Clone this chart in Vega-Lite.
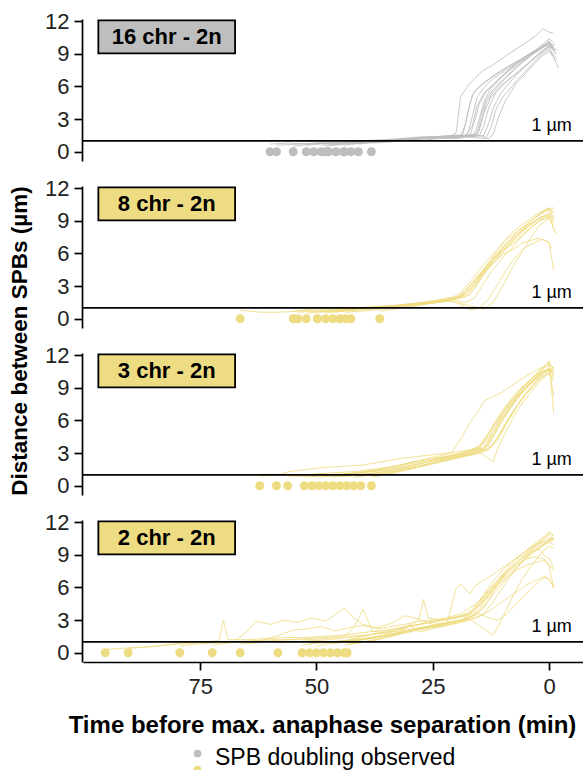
{
"$schema":"https://vega.github.io/schema/vega-lite/v6.json",
"background":"white",
"padding":{"left":8,"top":10,"right":0,"bottom":0},
"data":{"values":[
{"p":"16","lab":"16 chr - 2n"},{"p":"8","lab":"8 chr - 2n"},{"p":"3","lab":"3 chr - 2n"},{"p":"2","lab":"2 chr - 2n"},
{"p":"16","s":60},{"p":"16","s":58.6},{"p":"16","s":55},{"p":"16","s":52.2},{"p":"16","s":50.6},{"p":"16","s":49},{"p":"16","s":47.4},{"p":"16","s":48},{"p":"16","s":45.8},{"p":"16","s":44.2},{"p":"16","s":44},{"p":"16","s":42.6},{"p":"16","s":41},{"p":"16","s":38.2},
{"p":"8","s":66.4},{"p":"8","s":55},{"p":"8","s":54},{"p":"8","s":52.2},{"p":"8","s":49.8},{"p":"8","s":48},{"p":"8","s":46.5},{"p":"8","s":45},{"p":"8","s":43.8},{"p":"8","s":42.6},{"p":"8","s":36.4},{"p":"8","s":49.8},
{"p":"3","s":62.2},{"p":"3","s":58.6},{"p":"3","s":56.2},{"p":"3","s":52.6},{"p":"3","s":51},{"p":"3","s":49.5},{"p":"3","s":48},{"p":"3","s":46.5},{"p":"3","s":45},{"p":"3","s":43.5},{"p":"3","s":42},{"p":"3","s":40.5},{"p":"3","s":38.2},
{"p":"2","s":95.4},{"p":"2","s":90.5},{"p":"2","s":79.4},{"p":"2","s":72.4},{"p":"2","s":66.4},{"p":"2","s":58.3},{"p":"2","s":53.1},{"p":"2","s":51.5},{"p":"2","s":50},{"p":"2","s":48.5},{"p":"2","s":47},{"p":"2","s":45.5},{"p":"2","s":44},{"p":"2","s":43.4},
{"p":"16","i":1,"t":60,"d":0.7},{"p":"16","i":1,"t":56,"d":0.8},{"p":"16","i":1,"t":52,"d":0.7},{"p":"16","i":1,"t":48,"d":0.9},{"p":"16","i":1,"t":44,"d":0.8},{"p":"16","i":1,"t":40,"d":1.0},{"p":"16","i":1,"t":36,"d":1.0},{"p":"16","i":1,"t":32,"d":1.1},{"p":"16","i":1,"t":28,"d":1.2},{"p":"16","i":1,"t":24,"d":1.3},{"p":"16","i":1,"t":21,"d":1.5},{"p":"16","i":1,"t":20,"d":1.7},{"p":"16","i":1,"t":19,"d":5.1},{"p":"16","i":1,"t":17,"d":6.3},{"p":"16","i":1,"t":14.4,"d":7.4},{"p":"16","i":1,"t":12,"d":8.0},{"p":"16","i":1,"t":9,"d":8.9},{"p":"16","i":1,"t":5.8,"d":9.8},{"p":"16","i":1,"t":3,"d":10.6},{"p":"16","i":1,"t":1.3,"d":11.3},{"p":"16","i":1,"t":0,"d":11.0},{"p":"16","i":1,"t":-0.9,"d":10.9},
{"p":"16","i":2,"t":58.6,"d":0.6},{"p":"16","i":2,"t":54,"d":0.7},{"p":"16","i":2,"t":50,"d":0.8},{"p":"16","i":2,"t":46,"d":0.7},{"p":"16","i":2,"t":42,"d":0.9},{"p":"16","i":2,"t":38,"d":1.0},{"p":"16","i":2,"t":34,"d":1.1},{"p":"16","i":2,"t":30,"d":1.2},{"p":"16","i":2,"t":26,"d":1.3},{"p":"16","i":2,"t":22,"d":1.4},{"p":"16","i":2,"t":19,"d":1.5},{"p":"16","i":2,"t":18,"d":2.5},{"p":"16","i":2,"t":17,"d":4.5},{"p":"16","i":2,"t":16,"d":5.6},{"p":"16","i":2,"t":14,"d":6.3},{"p":"16","i":2,"t":11,"d":7.2},{"p":"16","i":2,"t":8,"d":8.0},{"p":"16","i":2,"t":5,"d":8.8},{"p":"16","i":2,"t":2,"d":9.6},{"p":"16","i":2,"t":0,"d":10.1},{"p":"16","i":2,"t":-1.2,"d":9.2},
{"p":"16","i":3,"t":55,"d":0.5},{"p":"16","i":3,"t":51,"d":0.7},{"p":"16","i":3,"t":47,"d":0.8},{"p":"16","i":3,"t":43,"d":0.8},{"p":"16","i":3,"t":39,"d":0.9},{"p":"16","i":3,"t":35,"d":1.0},{"p":"16","i":3,"t":31,"d":1.2},{"p":"16","i":3,"t":27,"d":1.3},{"p":"16","i":3,"t":23,"d":1.4},{"p":"16","i":3,"t":19,"d":1.4},{"p":"16","i":3,"t":17.5,"d":1.6},{"p":"16","i":3,"t":16.5,"d":3.2},{"p":"16","i":3,"t":15.5,"d":5.0},{"p":"16","i":3,"t":14,"d":5.9},{"p":"16","i":3,"t":12,"d":6.7},{"p":"16","i":3,"t":9,"d":7.6},{"p":"16","i":3,"t":6,"d":8.5},{"p":"16","i":3,"t":3,"d":9.2},{"p":"16","i":3,"t":1,"d":9.7},{"p":"16","i":3,"t":0,"d":9.9},{"p":"16","i":3,"t":-1.5,"d":9.0},
{"p":"16","i":4,"t":52.2,"d":0.6},{"p":"16","i":4,"t":48,"d":0.8},{"p":"16","i":4,"t":44,"d":0.8},{"p":"16","i":4,"t":40,"d":1.0},{"p":"16","i":4,"t":36,"d":1.1},{"p":"16","i":4,"t":32,"d":1.2},{"p":"16","i":4,"t":28,"d":1.2},{"p":"16","i":4,"t":24,"d":1.4},{"p":"16","i":4,"t":20,"d":1.5},{"p":"16","i":4,"t":17,"d":1.5},{"p":"16","i":4,"t":16,"d":2.8},{"p":"16","i":4,"t":15,"d":4.4},{"p":"16","i":4,"t":13.5,"d":5.5},{"p":"16","i":4,"t":11,"d":6.6},{"p":"16","i":4,"t":8,"d":7.8},{"p":"16","i":4,"t":5,"d":8.7},{"p":"16","i":4,"t":2,"d":9.5},{"p":"16","i":4,"t":0,"d":9.8},{"p":"16","i":4,"t":-1.8,"d":9.3},
{"p":"16","i":5,"t":50.6,"d":0.7},{"p":"16","i":5,"t":46,"d":0.8},{"p":"16","i":5,"t":42,"d":0.9},{"p":"16","i":5,"t":38,"d":0.9},{"p":"16","i":5,"t":34,"d":1.1},{"p":"16","i":5,"t":30,"d":1.3},{"p":"16","i":5,"t":26,"d":1.4},{"p":"16","i":5,"t":22,"d":1.3},{"p":"16","i":5,"t":18,"d":1.5},{"p":"16","i":5,"t":16,"d":1.6},{"p":"16","i":5,"t":15,"d":3.0},{"p":"16","i":5,"t":14,"d":4.6},{"p":"16","i":5,"t":12.5,"d":5.8},{"p":"16","i":5,"t":10,"d":6.9},{"p":"16","i":5,"t":7,"d":8.0},{"p":"16","i":5,"t":4,"d":8.9},{"p":"16","i":5,"t":1.5,"d":9.6},{"p":"16","i":5,"t":0,"d":10.2},{"p":"16","i":5,"t":-1,"d":9.6},
{"p":"16","i":6,"t":49,"d":0.6},{"p":"16","i":6,"t":45,"d":0.7},{"p":"16","i":6,"t":41,"d":0.9},{"p":"16","i":6,"t":37,"d":1.0},{"p":"16","i":6,"t":33,"d":1.1},{"p":"16","i":6,"t":29,"d":1.2},{"p":"16","i":6,"t":25,"d":1.3},{"p":"16","i":6,"t":21,"d":1.4},{"p":"16","i":6,"t":17,"d":1.5},{"p":"16","i":6,"t":15.5,"d":1.7},{"p":"16","i":6,"t":14.5,"d":3.4},{"p":"16","i":6,"t":13.5,"d":4.8},{"p":"16","i":6,"t":12,"d":5.7},{"p":"16","i":6,"t":9.5,"d":6.8},{"p":"16","i":6,"t":7,"d":7.8},{"p":"16","i":6,"t":4,"d":8.8},{"p":"16","i":6,"t":1,"d":9.7},{"p":"16","i":6,"t":0,"d":9.9},{"p":"16","i":6,"t":-1.3,"d":9.4},
{"p":"16","i":7,"t":47.4,"d":0.8},{"p":"16","i":7,"t":43,"d":0.9},{"p":"16","i":7,"t":39,"d":1.0},{"p":"16","i":7,"t":35,"d":1.0},{"p":"16","i":7,"t":31,"d":1.1},{"p":"16","i":7,"t":27,"d":1.3},{"p":"16","i":7,"t":23,"d":1.4},{"p":"16","i":7,"t":19,"d":1.5},{"p":"16","i":7,"t":16,"d":1.4},{"p":"16","i":7,"t":14,"d":1.5},{"p":"16","i":7,"t":13,"d":2.6},{"p":"16","i":7,"t":12,"d":4.0},{"p":"16","i":7,"t":10.5,"d":5.3},{"p":"16","i":7,"t":8,"d":6.6},{"p":"16","i":7,"t":5,"d":7.9},{"p":"16","i":7,"t":2.5,"d":8.9},{"p":"16","i":7,"t":0.5,"d":9.6},{"p":"16","i":7,"t":0,"d":9.7},{"p":"16","i":7,"t":-1.5,"d":9.1},
{"p":"16","i":8,"t":48,"d":0.5},{"p":"16","i":8,"t":44,"d":0.7},{"p":"16","i":8,"t":40,"d":0.8},{"p":"16","i":8,"t":36,"d":1.0},{"p":"16","i":8,"t":32,"d":1.1},{"p":"16","i":8,"t":28,"d":1.0},{"p":"16","i":8,"t":24,"d":1.2},{"p":"16","i":8,"t":20,"d":1.3},{"p":"16","i":8,"t":18,"d":1.4},{"p":"16","i":8,"t":16.5,"d":2.4},{"p":"16","i":8,"t":15.5,"d":4.2},{"p":"16","i":8,"t":14,"d":5.4},{"p":"16","i":8,"t":11.5,"d":6.4},{"p":"16","i":8,"t":9,"d":7.4},{"p":"16","i":8,"t":6,"d":8.3},{"p":"16","i":8,"t":3,"d":9.1},{"p":"16","i":8,"t":1,"d":9.7},{"p":"16","i":8,"t":0,"d":10.0},{"p":"16","i":8,"t":-1,"d":9.7},
{"p":"16","i":9,"t":45.8,"d":0.7},{"p":"16","i":9,"t":41,"d":0.8},{"p":"16","i":9,"t":37,"d":0.9},{"p":"16","i":9,"t":33,"d":1.1},{"p":"16","i":9,"t":29,"d":1.2},{"p":"16","i":9,"t":25,"d":1.3},{"p":"16","i":9,"t":21,"d":1.4},{"p":"16","i":9,"t":18,"d":1.5},{"p":"16","i":9,"t":15,"d":1.5},{"p":"16","i":9,"t":13.5,"d":1.3},{"p":"16","i":9,"t":12.5,"d":2.2},{"p":"16","i":9,"t":11.5,"d":3.8},{"p":"16","i":9,"t":10,"d":5.0},{"p":"16","i":9,"t":7,"d":6.5},{"p":"16","i":9,"t":4,"d":7.9},{"p":"16","i":9,"t":1.5,"d":9.0},{"p":"16","i":9,"t":0,"d":9.4},{"p":"16","i":9,"t":-1.7,"d":8.6},
{"p":"16","i":10,"t":44.2,"d":0.6},{"p":"16","i":10,"t":40,"d":0.8},{"p":"16","i":10,"t":36,"d":0.9},{"p":"16","i":10,"t":32,"d":1.0},{"p":"16","i":10,"t":28,"d":1.2},{"p":"16","i":10,"t":24,"d":1.3},{"p":"16","i":10,"t":20,"d":1.2},{"p":"16","i":10,"t":17,"d":1.4},{"p":"16","i":10,"t":15,"d":1.5},{"p":"16","i":10,"t":14,"d":2.4},{"p":"16","i":10,"t":13,"d":4.0},{"p":"16","i":10,"t":11.5,"d":5.4},{"p":"16","i":10,"t":9,"d":6.5},{"p":"16","i":10,"t":6,"d":7.6},{"p":"16","i":10,"t":3,"d":8.6},{"p":"16","i":10,"t":1,"d":9.3},{"p":"16","i":10,"t":0,"d":9.6},{"p":"16","i":10,"t":-2,"d":7.7},
{"p":"16","i":11,"t":44,"d":0.9},{"p":"16","i":11,"t":40,"d":1.0},{"p":"16","i":11,"t":36,"d":1.0},{"p":"16","i":11,"t":32,"d":1.1},{"p":"16","i":11,"t":28,"d":1.2},{"p":"16","i":11,"t":24,"d":1.4},{"p":"16","i":11,"t":20,"d":1.5},{"p":"16","i":11,"t":18.5,"d":1.6},{"p":"16","i":11,"t":17.5,"d":3.5},{"p":"16","i":11,"t":16.5,"d":5.2},{"p":"16","i":11,"t":15,"d":6.0},{"p":"16","i":11,"t":12,"d":7.0},{"p":"16","i":11,"t":9,"d":7.8},{"p":"16","i":11,"t":6,"d":8.5},{"p":"16","i":11,"t":3,"d":9.3},{"p":"16","i":11,"t":1,"d":10.0},{"p":"16","i":11,"t":0,"d":10.4},{"p":"16","i":11,"t":-1,"d":10.0},
{"p":"16","i":12,"t":42.6,"d":0.8},{"p":"16","i":12,"t":38,"d":0.9},{"p":"16","i":12,"t":34,"d":1.0},{"p":"16","i":12,"t":30,"d":1.2},{"p":"16","i":12,"t":26,"d":1.3},{"p":"16","i":12,"t":22,"d":1.4},{"p":"16","i":12,"t":19,"d":1.4},{"p":"16","i":12,"t":16,"d":1.3},{"p":"16","i":12,"t":13,"d":1.2},{"p":"16","i":12,"t":12,"d":1.6},{"p":"16","i":12,"t":11,"d":3.0},{"p":"16","i":12,"t":9.5,"d":4.6},{"p":"16","i":12,"t":7,"d":6.3},{"p":"16","i":12,"t":4,"d":7.7},{"p":"16","i":12,"t":1.5,"d":8.8},{"p":"16","i":12,"t":0,"d":9.2},{"p":"16","i":12,"t":-1.5,"d":8.4},
{"p":"16","i":13,"t":41,"d":0.7},{"p":"16","i":13,"t":37,"d":0.9},{"p":"16","i":13,"t":33,"d":1.0},{"p":"16","i":13,"t":29,"d":1.1},{"p":"16","i":13,"t":25,"d":1.3},{"p":"16","i":13,"t":21,"d":1.3},{"p":"16","i":13,"t":18,"d":1.4},{"p":"16","i":13,"t":16,"d":1.5},{"p":"16","i":13,"t":15,"d":2.0},{"p":"16","i":13,"t":14,"d":3.6},{"p":"16","i":13,"t":12.5,"d":5.0},{"p":"16","i":13,"t":10,"d":6.2},{"p":"16","i":13,"t":7,"d":7.2},{"p":"16","i":13,"t":4,"d":8.3},{"p":"16","i":13,"t":1.5,"d":9.3},{"p":"16","i":13,"t":0,"d":9.6},{"p":"16","i":13,"t":-1.2,"d":9.9},
{"p":"16","i":14,"t":38.2,"d":0.8},{"p":"16","i":14,"t":34,"d":0.9},{"p":"16","i":14,"t":30,"d":1.1},{"p":"16","i":14,"t":26,"d":1.2},{"p":"16","i":14,"t":22,"d":1.3},{"p":"16","i":14,"t":19,"d":1.4},{"p":"16","i":14,"t":17,"d":1.5},{"p":"16","i":14,"t":15.5,"d":1.5},{"p":"16","i":14,"t":14.5,"d":2.8},{"p":"16","i":14,"t":13.5,"d":4.5},{"p":"16","i":14,"t":12,"d":5.5},{"p":"16","i":14,"t":9.5,"d":6.7},{"p":"16","i":14,"t":6.5,"d":7.9},{"p":"16","i":14,"t":3.5,"d":9.0},{"p":"16","i":14,"t":1,"d":9.8},{"p":"16","i":14,"t":0,"d":10.1},{"p":"16","i":14,"t":-0.8,"d":9.5},
{"p":"8","i":1,"t":66.4,"d":0.8},{"p":"8","i":1,"t":62,"d":0.6},{"p":"8","i":1,"t":58,"d":0.6},{"p":"8","i":1,"t":54,"d":0.7},{"p":"8","i":1,"t":50,"d":0.8},{"p":"8","i":1,"t":46,"d":0.9},{"p":"8","i":1,"t":42,"d":0.8},{"p":"8","i":1,"t":38,"d":1.0},{"p":"8","i":1,"t":34,"d":1.2},{"p":"8","i":1,"t":30,"d":1.3},{"p":"8","i":1,"t":26,"d":1.5},{"p":"8","i":1,"t":22,"d":1.8},{"p":"8","i":1,"t":20,"d":1.9},{"p":"8","i":1,"t":18,"d":2.6},{"p":"8","i":1,"t":16,"d":3.6},{"p":"8","i":1,"t":14,"d":4.6},{"p":"8","i":1,"t":12,"d":5.6},{"p":"8","i":1,"t":10,"d":6.6},{"p":"8","i":1,"t":8,"d":7.3},{"p":"8","i":1,"t":6,"d":8.0},{"p":"8","i":1,"t":4,"d":8.7},{"p":"8","i":1,"t":2,"d":9.3},{"p":"8","i":1,"t":0,"d":9.6},{"p":"8","i":1,"t":-1,"d":9.2},
{"p":"8","i":2,"t":55,"d":0.7},{"p":"8","i":2,"t":51,"d":0.9},{"p":"8","i":2,"t":47,"d":1.0},{"p":"8","i":2,"t":43,"d":0.9},{"p":"8","i":2,"t":39,"d":1.0},{"p":"8","i":2,"t":35,"d":1.2},{"p":"8","i":2,"t":31,"d":1.3},{"p":"8","i":2,"t":27,"d":1.5},{"p":"8","i":2,"t":23,"d":1.7},{"p":"8","i":2,"t":21,"d":1.9},{"p":"8","i":2,"t":19,"d":2.4},{"p":"8","i":2,"t":17,"d":3.4},{"p":"8","i":2,"t":15,"d":4.5},{"p":"8","i":2,"t":13,"d":5.5},{"p":"8","i":2,"t":11,"d":6.4},{"p":"8","i":2,"t":9,"d":7.3},{"p":"8","i":2,"t":7,"d":8.0},{"p":"8","i":2,"t":5,"d":8.6},{"p":"8","i":2,"t":3,"d":9.3},{"p":"8","i":2,"t":1,"d":9.9},{"p":"8","i":2,"t":0,"d":10.1},{"p":"8","i":2,"t":-1,"d":10.2},
{"p":"8","i":3,"t":54,"d":0.6},{"p":"8","i":3,"t":50,"d":0.7},{"p":"8","i":3,"t":46,"d":0.6},{"p":"8","i":3,"t":42,"d":0.8},{"p":"8","i":3,"t":38,"d":0.9},{"p":"8","i":3,"t":34,"d":1.1},{"p":"8","i":3,"t":30,"d":1.4},{"p":"8","i":3,"t":26,"d":1.5},{"p":"8","i":3,"t":22,"d":1.8},{"p":"8","i":3,"t":20,"d":1.9},{"p":"8","i":3,"t":18,"d":2.0},{"p":"8","i":3,"t":16,"d":2.9},{"p":"8","i":3,"t":14,"d":4.2},{"p":"8","i":3,"t":12,"d":5.3},{"p":"8","i":3,"t":10,"d":6.2},{"p":"8","i":3,"t":8,"d":7.0},{"p":"8","i":3,"t":6,"d":7.9},{"p":"8","i":3,"t":4,"d":8.6},{"p":"8","i":3,"t":2,"d":9.2},{"p":"8","i":3,"t":0,"d":9.4},{"p":"8","i":3,"t":-1.2,"d":8.1},
{"p":"8","i":4,"t":52.2,"d":0.5},{"p":"8","i":4,"t":48,"d":0.7},{"p":"8","i":4,"t":44,"d":0.8},{"p":"8","i":4,"t":40,"d":1.0},{"p":"8","i":4,"t":36,"d":1.1},{"p":"8","i":4,"t":32,"d":1.2},{"p":"8","i":4,"t":28,"d":1.4},{"p":"8","i":4,"t":24,"d":1.6},{"p":"8","i":4,"t":21,"d":1.7},{"p":"8","i":4,"t":19,"d":2.1},{"p":"8","i":4,"t":17,"d":3.0},{"p":"8","i":4,"t":15,"d":4.0},{"p":"8","i":4,"t":13,"d":5.0},{"p":"8","i":4,"t":11,"d":6.0},{"p":"8","i":4,"t":9,"d":6.9},{"p":"8","i":4,"t":7,"d":7.7},{"p":"8","i":4,"t":5,"d":8.4},{"p":"8","i":4,"t":3,"d":9.0},{"p":"8","i":4,"t":1,"d":9.5},{"p":"8","i":4,"t":0,"d":9.8},{"p":"8","i":4,"t":-1,"d":9.1},
{"p":"8","i":5,"t":49.8,"d":0.7},{"p":"8","i":5,"t":46,"d":0.8},{"p":"8","i":5,"t":42,"d":1.0},{"p":"8","i":5,"t":38,"d":1.1},{"p":"8","i":5,"t":34,"d":1.2},{"p":"8","i":5,"t":30,"d":1.3},{"p":"8","i":5,"t":26,"d":1.6},{"p":"8","i":5,"t":22,"d":1.8},{"p":"8","i":5,"t":20,"d":1.7},{"p":"8","i":5,"t":18,"d":1.5},{"p":"8","i":5,"t":16,"d":1.9},{"p":"8","i":5,"t":14,"d":3.3},{"p":"8","i":5,"t":12,"d":4.6},{"p":"8","i":5,"t":10,"d":5.6},{"p":"8","i":5,"t":8,"d":6.5},{"p":"8","i":5,"t":6,"d":7.5},{"p":"8","i":5,"t":4,"d":8.3},{"p":"8","i":5,"t":2,"d":9.0},{"p":"8","i":5,"t":0,"d":9.3},{"p":"8","i":5,"t":-1.5,"d":7.8},
{"p":"8","i":6,"t":48,"d":0.6},{"p":"8","i":6,"t":44,"d":0.7},{"p":"8","i":6,"t":40,"d":0.9},{"p":"8","i":6,"t":36,"d":1.0},{"p":"8","i":6,"t":32,"d":1.1},{"p":"8","i":6,"t":28,"d":1.3},{"p":"8","i":6,"t":24,"d":1.5},{"p":"8","i":6,"t":21,"d":1.7},{"p":"8","i":6,"t":19,"d":1.3},{"p":"8","i":6,"t":17,"d":0.8},{"p":"8","i":6,"t":15,"d":1.0},{"p":"8","i":6,"t":13,"d":1.8},{"p":"8","i":6,"t":11,"d":3.2},{"p":"8","i":6,"t":9,"d":4.6},{"p":"8","i":6,"t":7,"d":5.8},{"p":"8","i":6,"t":5,"d":6.6},{"p":"8","i":6,"t":3,"d":7.0},{"p":"8","i":6,"t":1.5,"d":7.3},{"p":"8","i":6,"t":0,"d":7.0},{"p":"8","i":6,"t":-1,"d":4.5},
{"p":"8","i":7,"t":46.5,"d":0.8},{"p":"8","i":7,"t":42,"d":0.9},{"p":"8","i":7,"t":38,"d":1.0},{"p":"8","i":7,"t":34,"d":1.1},{"p":"8","i":7,"t":30,"d":1.3},{"p":"8","i":7,"t":26,"d":1.4},{"p":"8","i":7,"t":22,"d":1.6},{"p":"8","i":7,"t":20,"d":1.8},{"p":"8","i":7,"t":18,"d":2.5},{"p":"8","i":7,"t":16,"d":3.5},{"p":"8","i":7,"t":14,"d":4.4},{"p":"8","i":7,"t":12,"d":5.1},{"p":"8","i":7,"t":10,"d":5.9},{"p":"8","i":7,"t":8,"d":6.3},{"p":"8","i":7,"t":6,"d":6.9},{"p":"8","i":7,"t":4,"d":7.2},{"p":"8","i":7,"t":2,"d":7.4},{"p":"8","i":7,"t":0,"d":7.0},{"p":"8","i":7,"t":-0.5,"d":6.5},
{"p":"8","i":8,"t":45,"d":0.7},{"p":"8","i":8,"t":41,"d":0.9},{"p":"8","i":8,"t":37,"d":1.0},{"p":"8","i":8,"t":33,"d":1.2},{"p":"8","i":8,"t":29,"d":1.3},{"p":"8","i":8,"t":25,"d":1.5},{"p":"8","i":8,"t":21,"d":1.8},{"p":"8","i":8,"t":19,"d":1.9},{"p":"8","i":8,"t":17,"d":2.7},{"p":"8","i":8,"t":15,"d":3.8},{"p":"8","i":8,"t":13,"d":4.9},{"p":"8","i":8,"t":11,"d":5.8},{"p":"8","i":8,"t":9,"d":6.7},{"p":"8","i":8,"t":7,"d":7.6},{"p":"8","i":8,"t":5,"d":8.5},{"p":"8","i":8,"t":3,"d":9.3},{"p":"8","i":8,"t":1,"d":10.0},{"p":"8","i":8,"t":0,"d":10.2},{"p":"8","i":8,"t":-1,"d":9.8},
{"p":"8","i":9,"t":43.8,"d":0.6},{"p":"8","i":9,"t":40,"d":0.7},{"p":"8","i":9,"t":36,"d":0.9},{"p":"8","i":9,"t":32,"d":1.1},{"p":"8","i":9,"t":28,"d":1.3},{"p":"8","i":9,"t":24,"d":1.6},{"p":"8","i":9,"t":21,"d":1.9},{"p":"8","i":9,"t":19,"d":2.0},{"p":"8","i":9,"t":17,"d":2.2},{"p":"8","i":9,"t":15,"d":3.4},{"p":"8","i":9,"t":13,"d":4.6},{"p":"8","i":9,"t":11,"d":5.6},{"p":"8","i":9,"t":9,"d":6.5},{"p":"8","i":9,"t":7,"d":7.2},{"p":"8","i":9,"t":5,"d":8.0},{"p":"8","i":9,"t":3,"d":8.7},{"p":"8","i":9,"t":1,"d":9.3},{"p":"8","i":9,"t":0,"d":9.5},{"p":"8","i":9,"t":-1,"d":8.9},
{"p":"8","i":10,"t":42.6,"d":0.8},{"p":"8","i":10,"t":38,"d":1.0},{"p":"8","i":10,"t":34,"d":1.1},{"p":"8","i":10,"t":30,"d":1.2},{"p":"8","i":10,"t":26,"d":1.4},{"p":"8","i":10,"t":22,"d":1.6},{"p":"8","i":10,"t":20,"d":1.5},{"p":"8","i":10,"t":18,"d":1.3},{"p":"8","i":10,"t":16,"d":1.1},{"p":"8","i":10,"t":14,"d":0.9},{"p":"8","i":10,"t":12,"d":1.5},{"p":"8","i":10,"t":10,"d":3.0},{"p":"8","i":10,"t":8,"d":4.6},{"p":"8","i":10,"t":6,"d":6.0},{"p":"8","i":10,"t":4,"d":7.4},{"p":"8","i":10,"t":2,"d":8.6},{"p":"8","i":10,"t":0,"d":9.2},{"p":"8","i":10,"t":-1,"d":8.8},
{"p":"8","i":11,"t":36.4,"d":0.7},{"p":"8","i":11,"t":33,"d":0.9},{"p":"8","i":11,"t":30,"d":1.1},{"p":"8","i":11,"t":27,"d":1.3},{"p":"8","i":11,"t":24,"d":1.5},{"p":"8","i":11,"t":21,"d":1.8},{"p":"8","i":11,"t":19,"d":2.0},{"p":"8","i":11,"t":17,"d":2.6},{"p":"8","i":11,"t":15,"d":3.7},{"p":"8","i":11,"t":13,"d":4.8},{"p":"8","i":11,"t":11,"d":5.9},{"p":"8","i":11,"t":9,"d":7.0},{"p":"8","i":11,"t":7,"d":7.9},{"p":"8","i":11,"t":5,"d":8.6},{"p":"8","i":11,"t":3,"d":9.3},{"p":"8","i":11,"t":1,"d":9.8},{"p":"8","i":11,"t":0,"d":10.1},{"p":"8","i":11,"t":-1,"d":9.3},
{"p":"8","i":12,"t":49.8,"d":0.6},{"p":"8","i":12,"t":45,"d":0.7},{"p":"8","i":12,"t":41,"d":0.9},{"p":"8","i":12,"t":37,"d":1.0},{"p":"8","i":12,"t":33,"d":1.2},{"p":"8","i":12,"t":29,"d":1.3},{"p":"8","i":12,"t":25,"d":1.6},{"p":"8","i":12,"t":22,"d":1.9},{"p":"8","i":12,"t":20,"d":2.0},{"p":"8","i":12,"t":18,"d":2.3},{"p":"8","i":12,"t":16,"d":3.2},{"p":"8","i":12,"t":14,"d":4.5},{"p":"8","i":12,"t":12,"d":5.8},{"p":"8","i":12,"t":10,"d":7.0},{"p":"8","i":12,"t":8,"d":7.9},{"p":"8","i":12,"t":6,"d":8.6},{"p":"8","i":12,"t":4,"d":9.2},{"p":"8","i":12,"t":2,"d":9.8},{"p":"8","i":12,"t":0,"d":10.0},{"p":"8","i":12,"t":-1,"d":9.7},
{"p":"3","i":1,"t":62.2,"d":0.9},{"p":"3","i":1,"t":58,"d":1.0},{"p":"3","i":1,"t":54,"d":0.9},{"p":"3","i":1,"t":50,"d":1.1},{"p":"3","i":1,"t":46,"d":1.2},{"p":"3","i":1,"t":42,"d":1.3},{"p":"3","i":1,"t":38,"d":1.5},{"p":"3","i":1,"t":34,"d":1.7},{"p":"3","i":1,"t":30,"d":2.0},{"p":"3","i":1,"t":26,"d":2.3},{"p":"3","i":1,"t":22,"d":2.6},{"p":"3","i":1,"t":19,"d":2.9},{"p":"3","i":1,"t":17,"d":3.2},{"p":"3","i":1,"t":15,"d":3.5},{"p":"3","i":1,"t":13,"d":4.8},{"p":"3","i":1,"t":11,"d":6.0},{"p":"3","i":1,"t":9,"d":7.2},{"p":"3","i":1,"t":7,"d":8.2},{"p":"3","i":1,"t":5,"d":9.1},{"p":"3","i":1,"t":3,"d":9.9},{"p":"3","i":1,"t":1,"d":10.6},{"p":"3","i":1,"t":0,"d":10.8},{"p":"3","i":1,"t":-1,"d":10.3},
{"p":"3","i":2,"t":58.6,"d":0.9},{"p":"3","i":2,"t":56,"d":1.3},{"p":"3","i":2,"t":52,"d":1.5},{"p":"3","i":2,"t":48,"d":1.7},{"p":"3","i":2,"t":44,"d":1.8},{"p":"3","i":2,"t":40,"d":1.9},{"p":"3","i":2,"t":36,"d":2.2},{"p":"3","i":2,"t":32,"d":2.5},{"p":"3","i":2,"t":28,"d":2.7},{"p":"3","i":2,"t":24,"d":2.9},{"p":"3","i":2,"t":20,"d":3.1},{"p":"3","i":2,"t":17,"d":3.3},{"p":"3","i":2,"t":15,"d":3.6},{"p":"3","i":2,"t":13,"d":4.9},{"p":"3","i":2,"t":11,"d":6.3},{"p":"3","i":2,"t":9,"d":7.5},{"p":"3","i":2,"t":7,"d":8.6},{"p":"3","i":2,"t":5,"d":9.4},{"p":"3","i":2,"t":3,"d":10.2},{"p":"3","i":2,"t":1,"d":11.0},{"p":"3","i":2,"t":0,"d":11.2},{"p":"3","i":2,"t":-1,"d":10.8},
{"p":"3","i":3,"t":56.2,"d":0.9},{"p":"3","i":3,"t":52,"d":0.9},{"p":"3","i":3,"t":48,"d":1.0},{"p":"3","i":3,"t":44,"d":1.1},{"p":"3","i":3,"t":40,"d":1.3},{"p":"3","i":3,"t":36,"d":1.6},{"p":"3","i":3,"t":32,"d":1.9},{"p":"3","i":3,"t":28,"d":2.3},{"p":"3","i":3,"t":24,"d":2.7},{"p":"3","i":3,"t":21,"d":3.0},{"p":"3","i":3,"t":19,"d":4.3},{"p":"3","i":3,"t":17,"d":5.8},{"p":"3","i":3,"t":15,"d":7.0},{"p":"3","i":3,"t":14,"d":7.8},{"p":"3","i":3,"t":12,"d":8.2},{"p":"3","i":3,"t":10,"d":8.6},{"p":"3","i":3,"t":8,"d":9.2},{"p":"3","i":3,"t":6,"d":9.8},{"p":"3","i":3,"t":4,"d":10.3},{"p":"3","i":3,"t":2,"d":10.8},{"p":"3","i":3,"t":0,"d":11.0},{"p":"3","i":3,"t":-1,"d":10.2},
{"p":"3","i":4,"t":52.6,"d":0.8},{"p":"3","i":4,"t":49,"d":0.9},{"p":"3","i":4,"t":45,"d":1.0},{"p":"3","i":4,"t":41,"d":1.2},{"p":"3","i":4,"t":37,"d":1.4},{"p":"3","i":4,"t":33,"d":1.8},{"p":"3","i":4,"t":29,"d":2.2},{"p":"3","i":4,"t":25,"d":2.5},{"p":"3","i":4,"t":21,"d":2.8},{"p":"3","i":4,"t":18,"d":3.1},{"p":"3","i":4,"t":16,"d":3.4},{"p":"3","i":4,"t":14,"d":4.0},{"p":"3","i":4,"t":12,"d":5.4},{"p":"3","i":4,"t":10,"d":6.8},{"p":"3","i":4,"t":8,"d":7.9},{"p":"3","i":4,"t":6,"d":8.9},{"p":"3","i":4,"t":4,"d":9.7},{"p":"3","i":4,"t":2,"d":10.4},{"p":"3","i":4,"t":0,"d":10.7},{"p":"3","i":4,"t":-1,"d":10.9},
{"p":"3","i":5,"t":51,"d":0.9},{"p":"3","i":5,"t":47,"d":1.0},{"p":"3","i":5,"t":43,"d":1.1},{"p":"3","i":5,"t":39,"d":1.3},{"p":"3","i":5,"t":35,"d":1.6},{"p":"3","i":5,"t":31,"d":2.0},{"p":"3","i":5,"t":27,"d":2.4},{"p":"3","i":5,"t":23,"d":2.6},{"p":"3","i":5,"t":20,"d":2.9},{"p":"3","i":5,"t":17,"d":3.2},{"p":"3","i":5,"t":15,"d":3.4},{"p":"3","i":5,"t":13,"d":4.4},{"p":"3","i":5,"t":11,"d":5.7},{"p":"3","i":5,"t":9,"d":7.0},{"p":"3","i":5,"t":7,"d":8.1},{"p":"3","i":5,"t":5,"d":9.0},{"p":"3","i":5,"t":3,"d":9.8},{"p":"3","i":5,"t":1,"d":10.5},{"p":"3","i":5,"t":0,"d":10.7},{"p":"3","i":5,"t":-1,"d":8.3},
{"p":"3","i":6,"t":49.5,"d":0.8},{"p":"3","i":6,"t":46,"d":0.9},{"p":"3","i":6,"t":42,"d":1.1},{"p":"3","i":6,"t":38,"d":1.3},{"p":"3","i":6,"t":34,"d":1.5},{"p":"3","i":6,"t":30,"d":1.8},{"p":"3","i":6,"t":26,"d":2.2},{"p":"3","i":6,"t":22,"d":2.5},{"p":"3","i":6,"t":19,"d":2.8},{"p":"3","i":6,"t":16,"d":3.0},{"p":"3","i":6,"t":14,"d":3.3},{"p":"3","i":6,"t":12,"d":4.5},{"p":"3","i":6,"t":10,"d":6.0},{"p":"3","i":6,"t":8,"d":7.3},{"p":"3","i":6,"t":6,"d":8.4},{"p":"3","i":6,"t":4,"d":9.4},{"p":"3","i":6,"t":2,"d":10.3},{"p":"3","i":6,"t":1,"d":10.9},{"p":"3","i":6,"t":0,"d":11.5},{"p":"3","i":6,"t":-1,"d":6.7},
{"p":"3","i":7,"t":48,"d":0.9},{"p":"3","i":7,"t":44,"d":1.0},{"p":"3","i":7,"t":40,"d":1.2},{"p":"3","i":7,"t":36,"d":1.4},{"p":"3","i":7,"t":32,"d":1.7},{"p":"3","i":7,"t":28,"d":2.0},{"p":"3","i":7,"t":24,"d":2.4},{"p":"3","i":7,"t":20,"d":2.8},{"p":"3","i":7,"t":17,"d":3.1},{"p":"3","i":7,"t":15,"d":3.3},{"p":"3","i":7,"t":13,"d":3.7},{"p":"3","i":7,"t":11,"d":5.3},{"p":"3","i":7,"t":9,"d":6.8},{"p":"3","i":7,"t":7,"d":8.0},{"p":"3","i":7,"t":5,"d":8.9},{"p":"3","i":7,"t":3,"d":9.7},{"p":"3","i":7,"t":1,"d":10.4},{"p":"3","i":7,"t":0,"d":10.6},{"p":"3","i":7,"t":-1,"d":10.1},
{"p":"3","i":8,"t":46.5,"d":0.8},{"p":"3","i":8,"t":43,"d":0.9},{"p":"3","i":8,"t":39,"d":1.1},{"p":"3","i":8,"t":35,"d":1.3},{"p":"3","i":8,"t":31,"d":1.6},{"p":"3","i":8,"t":27,"d":1.9},{"p":"3","i":8,"t":23,"d":2.3},{"p":"3","i":8,"t":20,"d":2.6},{"p":"3","i":8,"t":17,"d":2.9},{"p":"3","i":8,"t":15,"d":3.1},{"p":"3","i":8,"t":13,"d":2.5},{"p":"3","i":8,"t":12,"d":2.2},{"p":"3","i":8,"t":11,"d":3.5},{"p":"3","i":8,"t":9,"d":5.2},{"p":"3","i":8,"t":7,"d":6.8},{"p":"3","i":8,"t":5,"d":8.0},{"p":"3","i":8,"t":3,"d":9.1},{"p":"3","i":8,"t":1,"d":10.0},{"p":"3","i":8,"t":0,"d":10.3},{"p":"3","i":8,"t":-1,"d":9.6},
{"p":"3","i":9,"t":45,"d":0.9},{"p":"3","i":9,"t":41,"d":1.0},{"p":"3","i":9,"t":37,"d":1.2},{"p":"3","i":9,"t":33,"d":1.5},{"p":"3","i":9,"t":29,"d":1.9},{"p":"3","i":9,"t":25,"d":2.3},{"p":"3","i":9,"t":21,"d":2.7},{"p":"3","i":9,"t":18,"d":3.0},{"p":"3","i":9,"t":16,"d":3.3},{"p":"3","i":9,"t":14,"d":3.5},{"p":"3","i":9,"t":12,"d":4.7},{"p":"3","i":9,"t":10,"d":6.2},{"p":"3","i":9,"t":8,"d":7.5},{"p":"3","i":9,"t":6,"d":8.6},{"p":"3","i":9,"t":4,"d":9.5},{"p":"3","i":9,"t":2,"d":10.3},{"p":"3","i":9,"t":0,"d":10.6},{"p":"3","i":9,"t":-1,"d":10.7},
{"p":"3","i":10,"t":43.5,"d":0.9},{"p":"3","i":10,"t":40,"d":1.0},{"p":"3","i":10,"t":36,"d":1.2},{"p":"3","i":10,"t":32,"d":1.4},{"p":"3","i":10,"t":28,"d":1.8},{"p":"3","i":10,"t":24,"d":2.2},{"p":"3","i":10,"t":20,"d":2.6},{"p":"3","i":10,"t":17,"d":2.9},{"p":"3","i":10,"t":15,"d":3.2},{"p":"3","i":10,"t":13,"d":3.4},{"p":"3","i":10,"t":11,"d":4.4},{"p":"3","i":10,"t":9,"d":5.9},{"p":"3","i":10,"t":7,"d":7.3},{"p":"3","i":10,"t":5,"d":8.5},{"p":"3","i":10,"t":3,"d":9.5},{"p":"3","i":10,"t":1,"d":10.4},{"p":"3","i":10,"t":0,"d":10.7},{"p":"3","i":10,"t":-1,"d":10.6},
{"p":"3","i":11,"t":42,"d":0.8},{"p":"3","i":11,"t":38,"d":1.0},{"p":"3","i":11,"t":34,"d":1.2},{"p":"3","i":11,"t":30,"d":1.6},{"p":"3","i":11,"t":26,"d":2.0},{"p":"3","i":11,"t":22,"d":2.4},{"p":"3","i":11,"t":19,"d":2.7},{"p":"3","i":11,"t":16,"d":2.9},{"p":"3","i":11,"t":14,"d":3.2},{"p":"3","i":11,"t":12,"d":3.8},{"p":"3","i":11,"t":10,"d":5.3},{"p":"3","i":11,"t":8,"d":6.7},{"p":"3","i":11,"t":6,"d":7.9},{"p":"3","i":11,"t":4,"d":9.0},{"p":"3","i":11,"t":2,"d":9.9},{"p":"3","i":11,"t":0,"d":10.3},{"p":"3","i":11,"t":-1,"d":9.9},
{"p":"3","i":12,"t":40.5,"d":0.9},{"p":"3","i":12,"t":37,"d":1.0},{"p":"3","i":12,"t":33,"d":1.3},{"p":"3","i":12,"t":29,"d":1.7},{"p":"3","i":12,"t":25,"d":2.1},{"p":"3","i":12,"t":21,"d":2.5},{"p":"3","i":12,"t":18,"d":2.9},{"p":"3","i":12,"t":16,"d":3.1},{"p":"3","i":12,"t":14,"d":3.4},{"p":"3","i":12,"t":12,"d":5.0},{"p":"3","i":12,"t":10,"d":6.6},{"p":"3","i":12,"t":8,"d":7.8},{"p":"3","i":12,"t":6,"d":8.8},{"p":"3","i":12,"t":4,"d":9.7},{"p":"3","i":12,"t":2,"d":10.5},{"p":"3","i":12,"t":1,"d":11.0},{"p":"3","i":12,"t":0,"d":11.3},{"p":"3","i":12,"t":-1,"d":10.8},
{"p":"3","i":13,"t":38.2,"d":0.8},{"p":"3","i":13,"t":35,"d":1.0},{"p":"3","i":13,"t":31,"d":1.4},{"p":"3","i":13,"t":27,"d":1.8},{"p":"3","i":13,"t":23,"d":2.2},{"p":"3","i":13,"t":20,"d":2.5},{"p":"3","i":13,"t":17,"d":2.8},{"p":"3","i":13,"t":15,"d":3.0},{"p":"3","i":13,"t":13,"d":3.3},{"p":"3","i":13,"t":11,"d":4.2},{"p":"3","i":13,"t":9,"d":5.8},{"p":"3","i":13,"t":7,"d":7.2},{"p":"3","i":13,"t":5,"d":8.4},{"p":"3","i":13,"t":3,"d":9.3},{"p":"3","i":13,"t":1,"d":10.2},{"p":"3","i":13,"t":0,"d":10.5},{"p":"3","i":13,"t":-1,"d":10.4},
{"p":"2","i":1,"t":95.4,"d":0.3},{"p":"2","i":1,"t":92,"d":0.4},{"p":"2","i":1,"t":88,"d":0.5},{"p":"2","i":1,"t":84,"d":0.6},{"p":"2","i":1,"t":80,"d":0.8},{"p":"2","i":1,"t":76,"d":0.9},{"p":"2","i":1,"t":72,"d":1.0},{"p":"2","i":1,"t":68,"d":1.0},{"p":"2","i":1,"t":64,"d":1.1},{"p":"2","i":1,"t":60,"d":1.2},{"p":"2","i":1,"t":56,"d":1.2},{"p":"2","i":1,"t":52,"d":1.3},{"p":"2","i":1,"t":48,"d":1.4},{"p":"2","i":1,"t":44,"d":1.5},{"p":"2","i":1,"t":40,"d":1.6},{"p":"2","i":1,"t":36,"d":1.8},{"p":"2","i":1,"t":32,"d":2.0},{"p":"2","i":1,"t":28,"d":2.3},{"p":"2","i":1,"t":24,"d":2.6},{"p":"2","i":1,"t":20,"d":2.9},{"p":"2","i":1,"t":17,"d":3.3},{"p":"2","i":1,"t":15,"d":3.8},{"p":"2","i":1,"t":13,"d":4.8},{"p":"2","i":1,"t":11,"d":5.9},{"p":"2","i":1,"t":9,"d":6.9},{"p":"2","i":1,"t":7,"d":7.8},{"p":"2","i":1,"t":5,"d":8.6},{"p":"2","i":1,"t":3,"d":9.3},{"p":"2","i":1,"t":1,"d":10.0},{"p":"2","i":1,"t":0,"d":10.4},{"p":"2","i":1,"t":-1,"d":10.6},
{"p":"2","i":2,"t":90.5,"d":0.4},{"p":"2","i":2,"t":87,"d":0.5},{"p":"2","i":2,"t":83,"d":0.7},{"p":"2","i":2,"t":79,"d":0.9},{"p":"2","i":2,"t":75,"d":1.0},{"p":"2","i":2,"t":71,"d":1.1},{"p":"2","i":2,"t":70,"d":3.0},{"p":"2","i":2,"t":69,"d":1.2},{"p":"2","i":2,"t":65,"d":1.2},{"p":"2","i":2,"t":61,"d":1.3},{"p":"2","i":2,"t":57,"d":1.4},{"p":"2","i":2,"t":53,"d":1.4},{"p":"2","i":2,"t":49,"d":1.5},{"p":"2","i":2,"t":45,"d":1.6},{"p":"2","i":2,"t":41,"d":1.8},{"p":"2","i":2,"t":37,"d":2.0},{"p":"2","i":2,"t":33,"d":2.2},{"p":"2","i":2,"t":29,"d":2.5},{"p":"2","i":2,"t":25,"d":2.8},{"p":"2","i":2,"t":21,"d":3.1},{"p":"2","i":2,"t":18,"d":3.4},{"p":"2","i":2,"t":16,"d":4.2},{"p":"2","i":2,"t":14,"d":5.4},{"p":"2","i":2,"t":12,"d":6.6},{"p":"2","i":2,"t":10,"d":7.6},{"p":"2","i":2,"t":8,"d":8.4},{"p":"2","i":2,"t":6,"d":9.0},{"p":"2","i":2,"t":4,"d":9.6},{"p":"2","i":2,"t":2,"d":10.1},{"p":"2","i":2,"t":0,"d":10.5},{"p":"2","i":2,"t":-1,"d":10.3},
{"p":"2","i":3,"t":79.4,"d":0.6},{"p":"2","i":3,"t":76,"d":0.8},{"p":"2","i":3,"t":72,"d":0.9},{"p":"2","i":3,"t":68,"d":1.0},{"p":"2","i":3,"t":65,"d":1.9},{"p":"2","i":3,"t":63,"d":2.9},{"p":"2","i":3,"t":60,"d":2.6},{"p":"2","i":3,"t":57,"d":3.0},{"p":"2","i":3,"t":54,"d":2.8},{"p":"2","i":3,"t":51,"d":3.2},{"p":"2","i":3,"t":48,"d":2.9},{"p":"2","i":3,"t":46,"d":3.5},{"p":"2","i":3,"t":44,"d":4.1},{"p":"2","i":3,"t":42,"d":3.2},{"p":"2","i":3,"t":40,"d":2.6},{"p":"2","i":3,"t":37,"d":2.2},{"p":"2","i":3,"t":34,"d":2.4},{"p":"2","i":3,"t":31,"d":2.6},{"p":"2","i":3,"t":28,"d":2.9},{"p":"2","i":3,"t":25,"d":3.0},{"p":"2","i":3,"t":22,"d":3.2},{"p":"2","i":3,"t":19,"d":3.6},{"p":"2","i":3,"t":16,"d":4.4},{"p":"2","i":3,"t":13,"d":5.6},{"p":"2","i":3,"t":10,"d":6.8},{"p":"2","i":3,"t":7,"d":8.0},{"p":"2","i":3,"t":4,"d":9.1},{"p":"2","i":3,"t":2,"d":9.8},{"p":"2","i":3,"t":0,"d":10.2},{"p":"2","i":3,"t":-1,"d":10.4},
{"p":"2","i":4,"t":72.4,"d":0.7},{"p":"2","i":4,"t":69,"d":0.9},{"p":"2","i":4,"t":66,"d":1.0},{"p":"2","i":4,"t":62,"d":1.1},{"p":"2","i":4,"t":58,"d":1.6},{"p":"2","i":4,"t":55,"d":2.1},{"p":"2","i":4,"t":52,"d":2.2},{"p":"2","i":4,"t":49,"d":2.4},{"p":"2","i":4,"t":46,"d":2.0},{"p":"2","i":4,"t":43,"d":2.3},{"p":"2","i":4,"t":40,"d":2.5},{"p":"2","i":4,"t":37,"d":2.3},{"p":"2","i":4,"t":34,"d":2.7},{"p":"2","i":4,"t":31,"d":3.4},{"p":"2","i":4,"t":28,"d":3.1},{"p":"2","i":4,"t":25,"d":2.6},{"p":"2","i":4,"t":22,"d":2.8},{"p":"2","i":4,"t":19,"d":3.0},{"p":"2","i":4,"t":17,"d":3.5},{"p":"2","i":4,"t":15,"d":4.6},{"p":"2","i":4,"t":13,"d":5.8},{"p":"2","i":4,"t":11,"d":6.7},{"p":"2","i":4,"t":9,"d":7.5},{"p":"2","i":4,"t":7,"d":8.1},{"p":"2","i":4,"t":5,"d":8.6},{"p":"2","i":4,"t":3,"d":8.8},{"p":"2","i":4,"t":1,"d":8.6},{"p":"2","i":4,"t":0,"d":8.1},{"p":"2","i":4,"t":-1,"d":7.6},
{"p":"2","i":5,"t":66.4,"d":0.8},{"p":"2","i":5,"t":63,"d":0.9},{"p":"2","i":5,"t":60,"d":1.1},{"p":"2","i":5,"t":56,"d":1.2},{"p":"2","i":5,"t":52,"d":1.2},{"p":"2","i":5,"t":48,"d":1.3},{"p":"2","i":5,"t":44,"d":1.5},{"p":"2","i":5,"t":42,"d":2.3},{"p":"2","i":5,"t":40,"d":4.0},{"p":"2","i":5,"t":38,"d":2.0},{"p":"2","i":5,"t":35,"d":1.8},{"p":"2","i":5,"t":32,"d":2.2},{"p":"2","i":5,"t":29,"d":2.5},{"p":"2","i":5,"t":26,"d":2.8},{"p":"2","i":5,"t":23,"d":3.0},{"p":"2","i":5,"t":20,"d":3.2},{"p":"2","i":5,"t":17,"d":3.5},{"p":"2","i":5,"t":15,"d":4.4},{"p":"2","i":5,"t":13,"d":5.6},{"p":"2","i":5,"t":11,"d":6.7},{"p":"2","i":5,"t":9,"d":7.7},{"p":"2","i":5,"t":7,"d":8.6},{"p":"2","i":5,"t":5,"d":9.3},{"p":"2","i":5,"t":3,"d":9.9},{"p":"2","i":5,"t":1,"d":10.5},{"p":"2","i":5,"t":0,"d":10.8},{"p":"2","i":5,"t":-1,"d":10.4},
{"p":"2","i":6,"t":58.3,"d":0.9},{"p":"2","i":6,"t":55,"d":1.0},{"p":"2","i":6,"t":51,"d":1.1},{"p":"2","i":6,"t":47,"d":1.2},{"p":"2","i":6,"t":43,"d":1.4},{"p":"2","i":6,"t":39,"d":1.6},{"p":"2","i":6,"t":35,"d":1.9},{"p":"2","i":6,"t":31,"d":2.2},{"p":"2","i":6,"t":28,"d":3.0},{"p":"2","i":6,"t":27,"d":4.9},{"p":"2","i":6,"t":26,"d":3.2},{"p":"2","i":6,"t":23,"d":3.0},{"p":"2","i":6,"t":20,"d":3.3},{"p":"2","i":6,"t":17,"d":3.7},{"p":"2","i":6,"t":15,"d":4.3},{"p":"2","i":6,"t":13,"d":5.3},{"p":"2","i":6,"t":11,"d":6.2},{"p":"2","i":6,"t":9,"d":7.0},{"p":"2","i":6,"t":7,"d":7.6},{"p":"2","i":6,"t":5,"d":8.0},{"p":"2","i":6,"t":3,"d":8.3},{"p":"2","i":6,"t":1,"d":8.5},{"p":"2","i":6,"t":0,"d":8.0},{"p":"2","i":6,"t":-1,"d":6.0},
{"p":"2","i":7,"t":53.1,"d":0.7},{"p":"2","i":7,"t":50,"d":0.9},{"p":"2","i":7,"t":46,"d":1.0},{"p":"2","i":7,"t":42,"d":1.2},{"p":"2","i":7,"t":38,"d":1.4},{"p":"2","i":7,"t":34,"d":1.7},{"p":"2","i":7,"t":30,"d":2.0},{"p":"2","i":7,"t":26,"d":2.3},{"p":"2","i":7,"t":22,"d":2.6},{"p":"2","i":7,"t":21,"d":4.2},{"p":"2","i":7,"t":20,"d":5.9},{"p":"2","i":7,"t":19,"d":6.3},{"p":"2","i":7,"t":17,"d":5.4},{"p":"2","i":7,"t":16,"d":6.1},{"p":"2","i":7,"t":14,"d":6.7},{"p":"2","i":7,"t":12,"d":7.2},{"p":"2","i":7,"t":10,"d":7.8},{"p":"2","i":7,"t":8,"d":8.4},{"p":"2","i":7,"t":6,"d":9.0},{"p":"2","i":7,"t":4,"d":9.7},{"p":"2","i":7,"t":2,"d":10.4},{"p":"2","i":7,"t":0,"d":11.0},{"p":"2","i":7,"t":-1,"d":10.7},
{"p":"2","i":8,"t":51.5,"d":0.8},{"p":"2","i":8,"t":48,"d":1.0},{"p":"2","i":8,"t":44,"d":1.1},{"p":"2","i":8,"t":40,"d":1.3},{"p":"2","i":8,"t":36,"d":1.6},{"p":"2","i":8,"t":32,"d":1.9},{"p":"2","i":8,"t":28,"d":2.2},{"p":"2","i":8,"t":24,"d":2.5},{"p":"2","i":8,"t":20,"d":2.9},{"p":"2","i":8,"t":17,"d":3.2},{"p":"2","i":8,"t":15,"d":3.6},{"p":"2","i":8,"t":13,"d":3.2},{"p":"2","i":8,"t":11,"d":3.0},{"p":"2","i":8,"t":9,"d":3.6},{"p":"2","i":8,"t":7,"d":4.5},{"p":"2","i":8,"t":5,"d":5.4},{"p":"2","i":8,"t":3,"d":6.2},{"p":"2","i":8,"t":1,"d":6.9},{"p":"2","i":8,"t":0,"d":6.8},{"p":"2","i":8,"t":-1,"d":6.0},
{"p":"2","i":9,"t":50,"d":0.6},{"p":"2","i":9,"t":47,"d":0.9},{"p":"2","i":9,"t":43,"d":1.2},{"p":"2","i":9,"t":39,"d":1.6},{"p":"2","i":9,"t":35,"d":2.0},{"p":"2","i":9,"t":31,"d":2.4},{"p":"2","i":9,"t":28,"d":2.6},{"p":"2","i":9,"t":25,"d":2.9},{"p":"2","i":9,"t":22,"d":3.1},{"p":"2","i":9,"t":19,"d":3.4},{"p":"2","i":9,"t":17,"d":3.6},{"p":"2","i":9,"t":15,"d":4.3},{"p":"2","i":9,"t":13,"d":5.4},{"p":"2","i":9,"t":11,"d":6.5},{"p":"2","i":9,"t":9,"d":7.5},{"p":"2","i":9,"t":7,"d":8.3},{"p":"2","i":9,"t":5,"d":8.9},{"p":"2","i":9,"t":3,"d":9.4},{"p":"2","i":9,"t":1,"d":9.9},{"p":"2","i":9,"t":0,"d":10.2},{"p":"2","i":9,"t":-1,"d":9.9},
{"p":"2","i":10,"t":48.5,"d":0.9},{"p":"2","i":10,"t":45,"d":1.0},{"p":"2","i":10,"t":41,"d":1.2},{"p":"2","i":10,"t":37,"d":1.4},{"p":"2","i":10,"t":33,"d":1.7},{"p":"2","i":10,"t":29,"d":2.1},{"p":"2","i":10,"t":25,"d":2.5},{"p":"2","i":10,"t":21,"d":2.8},{"p":"2","i":10,"t":18,"d":3.1},{"p":"2","i":10,"t":16,"d":3.5},{"p":"2","i":10,"t":14,"d":4.1},{"p":"2","i":10,"t":12,"d":5.6},{"p":"2","i":10,"t":10,"d":6.9},{"p":"2","i":10,"t":8,"d":7.9},{"p":"2","i":10,"t":6,"d":8.7},{"p":"2","i":10,"t":4,"d":9.3},{"p":"2","i":10,"t":2,"d":9.5},{"p":"2","i":10,"t":1,"d":8.9},{"p":"2","i":10,"t":0,"d":8.7},{"p":"2","i":10,"t":-1,"d":7.8},
{"p":"2","i":11,"t":47,"d":0.8},{"p":"2","i":11,"t":44,"d":1.0},{"p":"2","i":11,"t":40,"d":1.2},{"p":"2","i":11,"t":36,"d":1.5},{"p":"2","i":11,"t":32,"d":1.8},{"p":"2","i":11,"t":28,"d":2.2},{"p":"2","i":11,"t":24,"d":2.5},{"p":"2","i":11,"t":20,"d":2.8},{"p":"2","i":11,"t":17,"d":3.1},{"p":"2","i":11,"t":14,"d":2.2},{"p":"2","i":11,"t":12,"d":1.6},{"p":"2","i":11,"t":10,"d":3.2},{"p":"2","i":11,"t":8,"d":5.0},{"p":"2","i":11,"t":6,"d":6.6},{"p":"2","i":11,"t":4,"d":7.9},{"p":"2","i":11,"t":2,"d":9.0},{"p":"2","i":11,"t":0,"d":9.8},{"p":"2","i":11,"t":-1,"d":9.6},
{"p":"2","i":12,"t":45.5,"d":0.9},{"p":"2","i":12,"t":42,"d":1.1},{"p":"2","i":12,"t":38,"d":1.3},{"p":"2","i":12,"t":34,"d":1.6},{"p":"2","i":12,"t":30,"d":2.0},{"p":"2","i":12,"t":26,"d":2.4},{"p":"2","i":12,"t":22,"d":2.7},{"p":"2","i":12,"t":19,"d":3.0},{"p":"2","i":12,"t":17,"d":3.3},{"p":"2","i":12,"t":15,"d":4.0},{"p":"2","i":12,"t":13,"d":5.2},{"p":"2","i":12,"t":11,"d":6.4},{"p":"2","i":12,"t":9,"d":7.4},{"p":"2","i":12,"t":7,"d":8.3},{"p":"2","i":12,"t":5,"d":9.1},{"p":"2","i":12,"t":3,"d":9.8},{"p":"2","i":12,"t":1,"d":10.6},{"p":"2","i":12,"t":0,"d":11.1},{"p":"2","i":12,"t":-1,"d":10.8},
{"p":"2","i":13,"t":44,"d":0.7},{"p":"2","i":13,"t":41,"d":0.9},{"p":"2","i":13,"t":37,"d":1.2},{"p":"2","i":13,"t":33,"d":1.6},{"p":"2","i":13,"t":30,"d":2.6},{"p":"2","i":13,"t":28,"d":1.9},{"p":"2","i":13,"t":25,"d":2.2},{"p":"2","i":13,"t":22,"d":2.5},{"p":"2","i":13,"t":19,"d":2.8},{"p":"2","i":13,"t":16,"d":3.2},{"p":"2","i":13,"t":14,"d":3.6},{"p":"2","i":13,"t":12,"d":4.7},{"p":"2","i":13,"t":10,"d":6.0},{"p":"2","i":13,"t":8,"d":7.2},{"p":"2","i":13,"t":6,"d":8.3},{"p":"2","i":13,"t":4,"d":9.3},{"p":"2","i":13,"t":2,"d":10.0},{"p":"2","i":13,"t":0,"d":10.3},{"p":"2","i":13,"t":-1,"d":10.5},
{"p":"2","i":14,"t":43.4,"d":0.8},{"p":"2","i":14,"t":40,"d":1.0},{"p":"2","i":14,"t":36,"d":1.3},{"p":"2","i":14,"t":32,"d":1.7},{"p":"2","i":14,"t":28,"d":2.1},{"p":"2","i":14,"t":24,"d":2.4},{"p":"2","i":14,"t":20,"d":2.7},{"p":"2","i":14,"t":17,"d":3.0},{"p":"2","i":14,"t":15,"d":3.3},{"p":"2","i":14,"t":13,"d":3.8},{"p":"2","i":14,"t":11,"d":4.4},{"p":"2","i":14,"t":9,"d":5.0},{"p":"2","i":14,"t":7,"d":5.6},{"p":"2","i":14,"t":5,"d":6.2},{"p":"2","i":14,"t":3,"d":6.6},{"p":"2","i":14,"t":1,"d":7.0},{"p":"2","i":14,"t":0,"d":6.8},{"p":"2","i":14,"t":-1,"d":6.0}
]},
"facet":{"row":{"field":"p","type":"nominal","sort":["16","8","3","2"],"title":"Distance between SPBs (µm)","header":{"labels":false,"titleFontSize":22.5,"titleFontWeight":"bold","titleColor":"black","titleFont":"Liberation Sans","titlePadding":3}}},
"spacing":{"row":25},
"spec":{
"width":500,"height":142,
"layer":[
{"transform":[{"filter":"isValid(datum.t)"}],
 "mark":{"type":"line","strokeWidth":1,"opacity":0.85,"clip":true},
 "encoding":{
  "x":{"field":"t","type":"quantitative","scale":{"domain":[-7.3,100.2],"reverse":true,"nice":false,"zero":false},"axis":{"values":[0,25,50,75],"titleX":239},"title":"Time before max. anaphase separation (min)"},
  "y":{"field":"d","type":"quantitative","scale":{"domain":[-0.85,12.2],"nice":false,"zero":false},"axis":{"values":[0,3,6,9,12],"labelOverlap":false,"title":null}},
  "detail":{"field":"i","type":"nominal"},
  "stroke":{"field":"p","type":"nominal","scale":{"domain":["16","2","3","8"],"range":["#bebebe","#eedc82","#eedc82","#eedc82"]},"legend":null}
 }},
{"transform":[{"filter":"isValid(datum.lab)"}],
 "mark":{"type":"rule","color":"black","strokeWidth":1.8},
 "encoding":{"y":{"datum":1,"type":"quantitative","axis":{"values":[0,3,6,9,12],"labelOverlap":false,"title":null}}}},
{"transform":[{"filter":"isValid(datum.lab)"}],
 "mark":{"type":"text","text":"1 µm","align":"right","baseline":"alphabetic","dy":-10,"fontSize":18,"color":"black"},
 "encoding":{"x":{"datum":-4.9,"type":"quantitative"},"y":{"datum":1,"type":"quantitative","axis":{"values":[0,3,6,9,12],"labelOverlap":false,"title":null}}}},
{"transform":[{"filter":"isValid(datum.s)"}],
 "mark":{"type":"point","filled":true,"opacity":1,"size":80,"shape":"circle"},
 "encoding":{
  "x":{"field":"s","type":"quantitative"},
  "y":{"datum":0,"type":"quantitative","axis":{"values":[0,3,6,9,12],"labelOverlap":false,"title":null}},
  "fill":{"field":"p","type":"nominal","scale":{"domain":["16","8","3","2"],"range":["#bebebe","#eedc82","#eedc82","#eedc82"]},
   "legend":{"orient":"none","legendX":103,"legendY":723,"title":null,"values":["16","8"],"labelExpr":"datum.value == '8' ? 'SPB doubling observed' : ''","symbolType":"circle","symbolSize":60,"symbolStrokeWidth":0,"labelFontSize":23,"labelLimit":0,"labelBaseline":"bottom","labelColor":"black","rowPadding":-17,"direction":"vertical","labelOffset":6}}
 }},
{"transform":[{"filter":"isValid(datum.lab)"}],
 "mark":{"type":"rect","stroke":"black","strokeWidth":1.8},
 "encoding":{
  "x":{"datum":96.9,"type":"quantitative"},"x2":{"datum":67.5},
  "y":{"datum":12.07,"type":"quantitative","axis":{"values":[0,3,6,9,12],"labelOverlap":false,"title":null}},"y2":{"datum":9.05},
  "color":{"field":"p","type":"nominal","scale":{"domain":["16","3","8","2"],"range":["#bebebe","#eedc82","#eedc82","#eedc82"]},"legend":null}
 }},
{"transform":[{"filter":"isValid(datum.lab)"}],
 "mark":{"type":"text","fontSize":22,"fontWeight":"bold","color":"black","baseline":"middle","align":"center"},
 "encoding":{
  "x":{"datum":82.2,"type":"quantitative"},"y":{"datum":10.56,"type":"quantitative","axis":{"values":[0,3,6,9,12],"labelOverlap":false,"title":null}},
  "text":{"field":"lab","type":"nominal"}
 }}
]},
"config":{
 "font":"Liberation Sans",
 "view":{"stroke":null},
 "axis":{"grid":false,"domainColor":"black","domainWidth":1.7,"tickColor":"black","tickWidth":1.7,"tickSize":8,"labelFontSize":22,"labelColor":"#222222","labelFont":"Liberation Sans","titleFont":"Liberation Sans","titleFontSize":24,"titleFontWeight":"bold","titleColor":"black"},
 "axisX":{"labelPadding":6,"titlePadding":16},
 "axisY":{"labelPadding":5,"labelOverlap":false},
 "legend":{"labelFont":"Liberation Sans"}
}
}
